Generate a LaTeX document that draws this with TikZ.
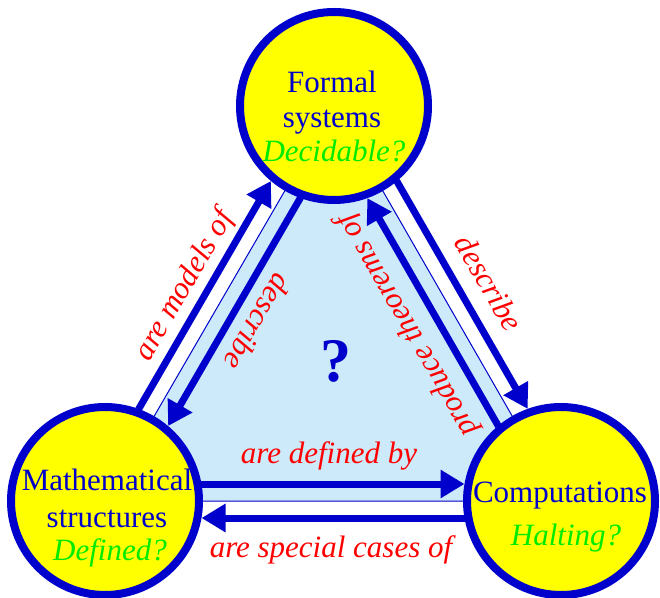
\documentclass[tikz,border=0pt]{standalone}
\usepackage{fontspec}
\setmainfont{Liberation Serif}
\usetikzlibrary{calc,arrows.meta}
\definecolor{dblue}{RGB}{0,0,204}
\definecolor{lblue}{RGB}{204,234,250}
\definecolor{yel}{RGB}{255,255,0}
\definecolor{gr}{RGB}{0,235,0}
\definecolor{rd}{RGB}{255,0,0}
\pgfdeclarelayer{bg}
\pgfsetlayers{bg,main}
\tikzset{
  circ/.style={circle, draw=dblue, fill=yel, line width=8pt, minimum size=188pt, inner sep=0pt},
  ctext/.style={text=dblue, font=\fontsize{31}{35}\selectfont, anchor=base, inner sep=0pt},
  qtext/.style={text=gr, font=\fontsize{31}{35}\selectfont\itshape, anchor=base, inner sep=0pt},
  rlab/.style={text=rd, font=\fontsize{31}{35}\selectfont\itshape, inner sep=0pt},
  conn/.style={draw=dblue, line width=7pt, -{Triangle[length=24pt,width=27pt]}, shorten <=96pt, shorten >=96.5pt},
}
\begin{document}
\begin{tikzpicture}[x=1pt,y=1pt]
\useasboundingbox (0,0) rectangle (660,597);
% circles
\node[circ] (T) at (334,491) {};
\node[circ] (L) at (105,96) {};
\node[circ] (R) at (561,96) {};
% circle texts
\node[ctext] (T1) at (332,504) {Formal};
\node[ctext] (T2) at (332,469) {systems};
\node[qtext] (T3) at (334,435) {Decidable?};
\node[ctext] (L1) at (107,107) {Mathematical};
\node[ctext] (L2) at (107,70) {structures};
\node[qtext] (L3) at (110,37) {Defined?};
\node[ctext] (R1) at (560,95) {Computations};
\node[qtext] (R2) at (566,52) {Halting?};
\begin{pgfonlayer}{bg}
  \fill[white] (0,0) rectangle (660,597);
  \fill[lblue] (T.center) -- (L.center) -- (R.center) -- cycle;
  \draw[dblue, line width=1pt] (T.center) -- (L.center) -- (R.center) -- cycle;
  % left side
  \draw[conn] ($(L.center)!17pt!90:(T.center)$) -- ($(T.center)!17pt!-90:(L.center)$);
  \draw[conn] ($(T.center)!17pt!90:(L.center)$) -- ($(L.center)!17pt!-90:(T.center)$);
  % right side
  \draw[conn] ($(T.center)!17pt!90:(R.center)$) -- ($(R.center)!17pt!-90:(T.center)$);
  \draw[conn] ($(R.center)!17pt!90:(T.center)$) -- ($(T.center)!17pt!-90:(R.center)$);
  % bottom
  \draw[conn] ($(L.center)!17pt!90:(R.center)$) -- ($(R.center)!17pt!-90:(L.center)$);
  \draw[conn] ($(R.center)!17pt!90:(L.center)$) -- ($(L.center)!17pt!-90:(R.center)$);
\end{pgfonlayer}
% labels
\node[rlab, rotate=60] (lab1) at (185,311) {are models of};
\node[rlab, rotate=240] (lab2) at (258,275) {describe};
\node[rlab, rotate=-60] (lab3) at (489,314) {describe};
\node[rlab, rotate=120] (lab4) at (408,272) {produce theorems of};
\node[rlab, anchor=base] (lab5) at (329,134) {are defined by};
\node[rlab, anchor=base] (lab6) at (331,40) {are special cases of};
\node[text=dblue, font=\fontsize{62}{62}\selectfont\bfseries] (q) at (336,236) {?};
\end{tikzpicture}
\end{document}
